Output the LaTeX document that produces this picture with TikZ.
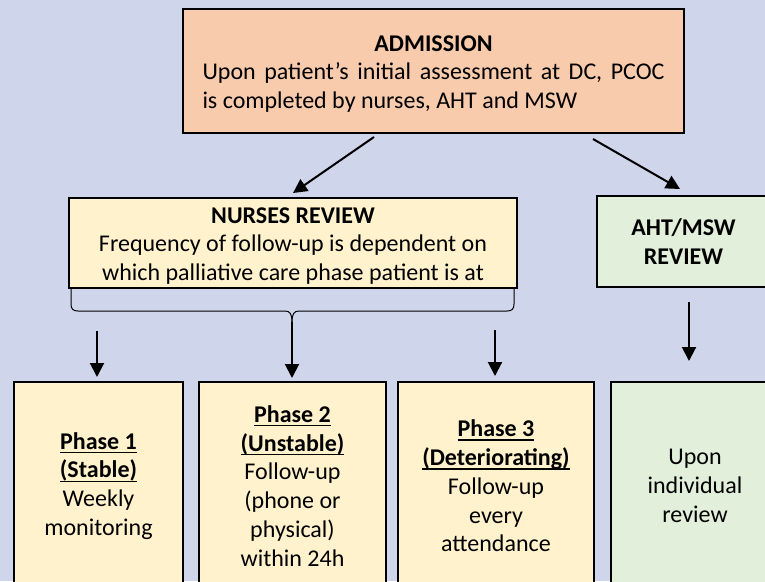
\documentclass[tikz,border=0pt]{standalone}
\usepackage{fontspec}
\setmainfont{Carlito}
\usetikzlibrary{arrows.meta}

\definecolor{pagebg}{HTML}{CFD5EA}
\definecolor{peach}{HTML}{F8CBAD}
\definecolor{cream}{HTML}{FFF2CC}
\definecolor{mint}{HTML}{E2EFDA}

% bold text with an underline at a fixed distance below the baseline
\newcommand\ulbold[1]{\setbox0\hbox{\textbf{#1}}\rlap{\vrule width\wd0 height -2.6pt depth 4.1pt}\box0}
% invisible prop that lowers a text block a little
\newcommand\lowerprop{\rule{0pt}{21.5pt}}

\begin{document}
\begin{tikzpicture}[x=1pt,y=-1pt,
  box/.style={draw=black, line width=2pt, inner sep=0pt, align=center,
    font=\fontsize{24}{28.8}\selectfont},
  arr/.style={line width=2pt, -{Triangle[length=14pt,width=14pt]}},
  bracket/.style={line width=1pt}]
\fill[pagebg] (0,0) rectangle (765,581);
\useasboundingbox (0,0) rectangle (765,581);
\clip (0,0) rectangle (765,581);

% top box
\node[box, fill=peach, minimum width=501pt, minimum height=124pt, align=left] (adm) at (433.5,71)
  {\lowerprop\makebox[462pt]{\textbf{ADMISSION}}\\
   \makebox[462pt][s]{Upon patient’s initial assessment at DC, PCOC}\\
   \makebox[462pt][l]{is completed by nurses, AHT and MSW}};

% second row
\node[box, fill=cream, minimum width=448pt, minimum height=90pt] (nurse) at (293,243)
  {\lowerprop\textbf{NURSES REVIEW}\\Frequency of follow-up is dependent on\\which palliative care phase patient is at};
\node[box, fill=mint, minimum width=173pt, minimum height=91pt] (aht) at (683.5,241.5)
  {\textbf{AHT/MSW}\\\textbf{REVIEW}};

% bottom row
\node[box, fill=cream, minimum width=169pt, minimum height=208pt] (p1) at (98.5,486)
  {\ulbold{Phase 1}\\\ulbold{(Stable)}\\Weekly\\monitoring};
\node[box, fill=cream, minimum width=187pt, minimum height=208pt] (p2) at (292.5,486)
  {\ulbold{Phase 2}\\\ulbold{(Unstable)}\\Follow-up\\(phone or\\physical)\\within 24h};
\node[box, fill=cream, minimum width=196pt, minimum height=208pt] (p3) at (496,486)
  {\ulbold{Phase 3}\\\ulbold{(Deteriorating)}\\Follow-up\\every\\attendance};
\node[box, fill=mint, minimum width=168pt, minimum height=208pt] (ind) at (695,486)
  {Upon\\individual\\review};

% connector end points
\coordinate (admL) at (374,137);
\coordinate (nurseT) at (293,193);
\coordinate (admR) at (593,139);
\coordinate (ahtT) at (680,189);
\coordinate (p1s) at (97,331);
\coordinate (p1e) at (97,377);
\coordinate (p2s) at (292,322);
\coordinate (p2e) at (292,378);
\coordinate (p3s) at (495,330);
\coordinate (p3e) at (495,376);
\coordinate (inds) at (689,302);
\coordinate (inde) at (689,361);

\draw[arr] (admL) -- (nurseT);
\draw[arr] (admR) -- (ahtT);
\draw[arr] (p1s) -- (p1e);
\draw[arr] (p2s) -- (p2e);
\draw[arr] (p3s) -- (p3e);
\draw[arr] (inds) -- (inde);

% brace under the nurses box
\draw[bracket] (71,288) -- (71,304) .. controls (71,309) and (73,311) .. (78,311)
  -- (285,311) .. controls (290,311) and (292,314) .. (p2s);
\draw[bracket] (514,288) -- (514,304) .. controls (514,309) and (512,311) .. (507,311)
  -- (299,311) .. controls (294,311) and (292,314) .. (p2s);
\end{tikzpicture}
\end{document}
